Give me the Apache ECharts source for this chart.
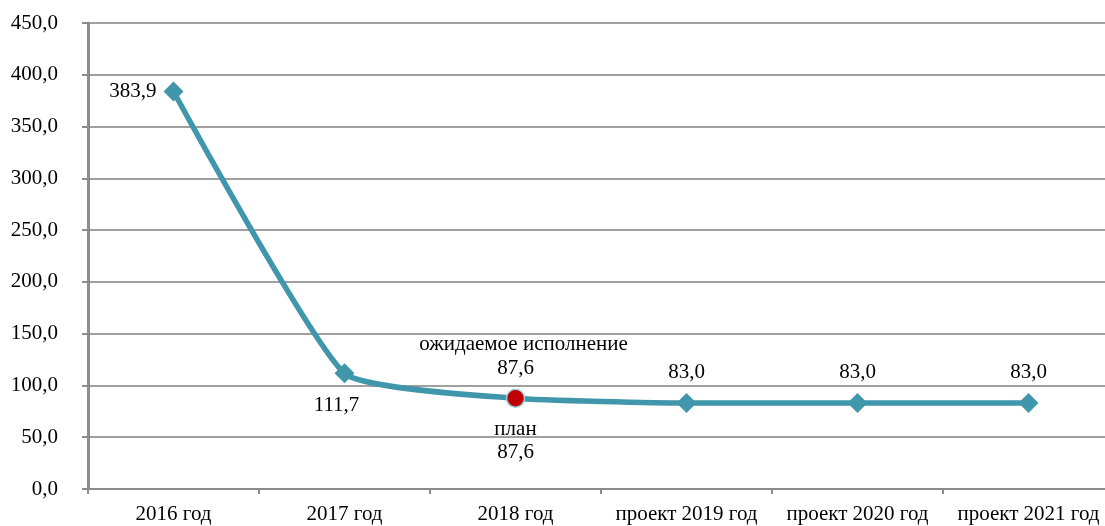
<!DOCTYPE html>
<html><head><meta charset="utf-8">
<script src="https://cdn.jsdelivr.net/npm/echarts@6/dist/echarts.min.js"></script>
<style>html,body{margin:0;padding:0;background:#fff}#c{width:1105px;height:526px}</style>
</head><body><div id="c"></div>
<script>
var categories = ['2016 год','2017 год','2018 год','проект 2019 год','проект 2020 год','проект 2021 год'];
var values = [383.9, 111.7, 87.6, 83.0, 83.0, 83.0];
var planValue = 87.6;
var labelPositions = ['left','bottom','top','top','top','top'];
var yTicks = [0,50,100,150,200,250,300,350,400,450];

function fmt(v){ return v.toFixed(1).replace('.', ','); }
var FONT = '"Liberation Serif", "Times New Roman", serif';
var FS = 21;
var data = values.map(function(v,i){
  var item = {value: v, label: {position: labelPositions[i], distance: 10}};
  if (i === 2) {
    item.symbol = 'circle';
    item.symbolSize = 18;
    item.itemStyle = {color: '#C00000', borderColor: '#9CCFDD', borderWidth: 1.5};
    item.label = {position: 'top', distance: 8, lineHeight: 24, offset: [8, 0],
      formatter: 'ожидаемое исполнение\n{v|' + fmt(v) + '}',
      rich: {v: {fontSize: FS, fontFamily: FONT, color: '#000', padding: [0, 16, 0, 0], lineHeight: 24}}};
  }
  if (i === 1) { item.label.distance = 12; item.label.offset = [-8, 0]; }
  if (i === 0) item.label.distance = 7;
  return item;
});

var chart = echarts.init(document.getElementById('c'));
chart.setOption({
  animation: false,
  textStyle: {fontFamily: FONT},
  grid: {left: 88, width: 1026, top: 23, bottom: 37, containLabel: false, outerBoundsMode: 'none'},
  xAxis: {
    type: 'category', data: categories, boundaryGap: true,
    axisLine: {lineStyle: {color: '#8C8C8C', width: 2}},
    axisTick: {show: true, length: 5, lineStyle: {color: '#8C8C8C', width: 2}},
    axisLabel: {color: '#000', fontSize: FS, fontFamily: FONT, margin: 15, interval: 0}
  },
  yAxis: {
    type: 'value', min: 0, max: 450, interval: 50,
    axisLine: {show: true, lineStyle: {color: '#8C8C8C', width: 3}},
    axisTick: {show: true, length: 6, lineStyle: {color: '#8C8C8C', width: 2}},
    splitLine: {lineStyle: {color: '#A0A0A0', width: 2}},
    axisLabel: {color: '#000', fontSize: FS, fontFamily: FONT, margin: 30,
      formatter: function(v){ return yTicks.indexOf(v) >= 0 ? fmt(v) : ''; }}
  },
  series: [{
    type: 'line', data: data, smooth: 0.15,
    symbol: 'diamond', symbolSize: 20,
    lineStyle: {color: '#4096AB', width: 5.5},
    itemStyle: {color: '#4096AB'},
    label: {show: true, color: '#000', fontSize: FS, fontFamily: FONT,
      formatter: function(p){ return fmt(p.value); }},
    markPoint: {
      symbol: 'circle', symbolSize: 1, itemStyle: {color: 'rgba(0,0,0,0)'},
      label: {show: true, position: 'bottom', distance: 19, lineHeight: 23, color: '#000',
        fontSize: FS, fontFamily: FONT, formatter: 'план\n' + fmt(planValue)},
      data: [{coord: [2, planValue]}]
    },
    z: 5
  }]
});
</script></body></html>
